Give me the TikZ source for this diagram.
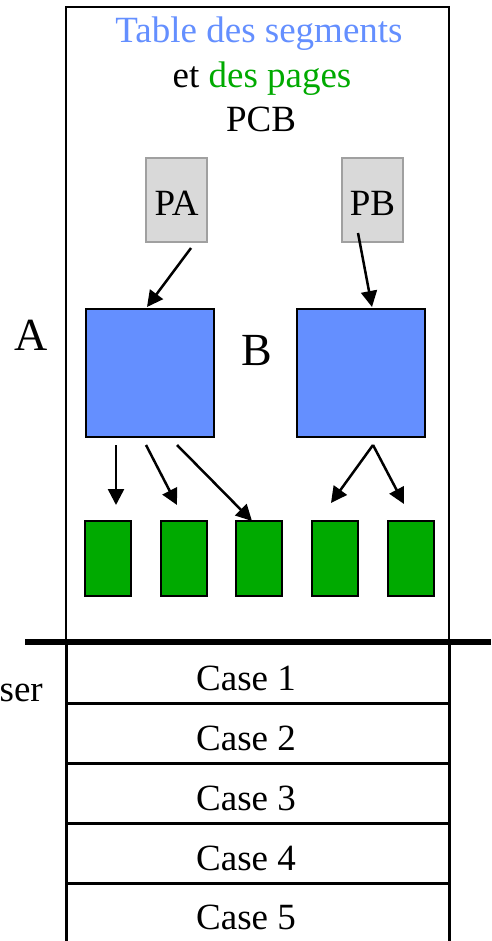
\documentclass[tikz,border=0pt]{standalone}
\usepackage{fontspec}
\setmainfont{Liberation Serif}
\usetikzlibrary{arrows.meta}
\definecolor{segblue}{RGB}{100,143,255}
\definecolor{pagegreen}{RGB}{0,170,0}
\definecolor{pcbgray}{RGB}{217,217,217}
\definecolor{pcbedge}{RGB}{160,160,160}
\begin{document}
\begin{tikzpicture}[x=1pt,y=-1pt,
  txt/.style={font=\fontsize{37}{40}\selectfont, inner sep=0pt, anchor=base},
  bigtxt/.style={font=\fontsize{46}{50}\selectfont, inner sep=0pt, anchor=base},
  segbox/.style={draw=black, line width=2.5pt, fill=segblue, minimum width=128pt, minimum height=128pt, inner sep=0pt},
  pagebox/.style={draw=black, line width=2.5pt, fill=pagegreen, minimum width=46pt, minimum height=75pt, inner sep=0pt},
  pcbbox/.style={draw=pcbedge, line width=2pt, fill=pcbgray, minimum width=61pt, minimum height=84pt, inner sep=0pt},
  link/.style={line width=2.5pt, -{Triangle[length=16pt,width=16pt]}},
  frame/.style={line width=2pt},
  wall/.style={line width=3pt},
  rowline/.style={line width=3pt}]
\useasboundingbox (0,0) rectangle (491,941);

% process frame (upper part)
\draw[frame] (66,642) -- (66,7) -- (449,7) -- (449,642);
% memory column (lower part)
\draw[wall] (66,642) -- (66,941);
\draw[wall] (449,642) -- (449,941);
\draw[line width=6pt] (25,642) -- (491,642);
\foreach \y in {703,763,823,883} \draw[rowline] (66,\y) -- (449,\y);

% headings
\node[txt, text=segblue] (title) at (259,43) {Table des segments};
\node[txt] (sub) at (262,88) {et \textcolor{pagegreen}{des pages}};
\node[txt] (pcb) at (261,132) {PCB};

% PCB entries
\node[pcbbox] (PA) at (176.5,200) {};
\node[txt] (PAt) at (176.5,215) {PA};
\node[pcbbox] (PB) at (372.5,200) {};
\node[txt] (PBt) at (372.5,215) {PB};

% segment tables
\node[bigtxt] (labA) at (31,350) {A};
\node[bigtxt] (labB) at (257,365) {B};
\node[segbox] (SA) at (150,373) {};
\node[segbox] (SB) at (361,373) {};

% page tables
\node[pagebox] (g1) at (108,558.5) {};
\node[pagebox] (g2) at (184,558.5) {};
\node[pagebox] (g3) at (259,558.5) {};
\node[pagebox] (g4) at (335,558.5) {};
\node[pagebox] (g5) at (411,558.5) {};

% connector end points
\coordinate (pa0) at (191,248);
\coordinate (pa1) at (147,307);
\coordinate (pb0) at (358,233);
\coordinate (pb1) at (372,307);
\coordinate (a0) at (116,445);
\coordinate (a1) at (116,505);
\coordinate (b0) at (146,445);
\coordinate (b1) at (177,505);
\coordinate (c0) at (177,445);
\coordinate (c1) at (252,521);
\coordinate (d0) at (373,445);
\coordinate (d1) at (331,503);
\coordinate (e1) at (404,504);

\draw[link] (pa0) -- (pa1);
\draw[link] (pb0) -- (pb1);
\draw[link] (a0) -- (a1);
\draw[link] (b0) -- (b1);
\draw[link] (c0) -- (c1);
\draw[link] (d0) -- (d1);
\draw[link] (d0) -- (e1);

% memory rows
\node[txt] (case1) at (246,690) {Case 1};
\node[txt] (case2) at (246,750) {Case 2};
\node[txt] (case3) at (246,810) {Case 3};
\node[txt] (case4) at (246,870) {Case 4};
\node[txt] (case5) at (246,929) {Case 5};
\node[txt, anchor=base east] (user) at (43,701) {ser};
\end{tikzpicture}
\end{document}
